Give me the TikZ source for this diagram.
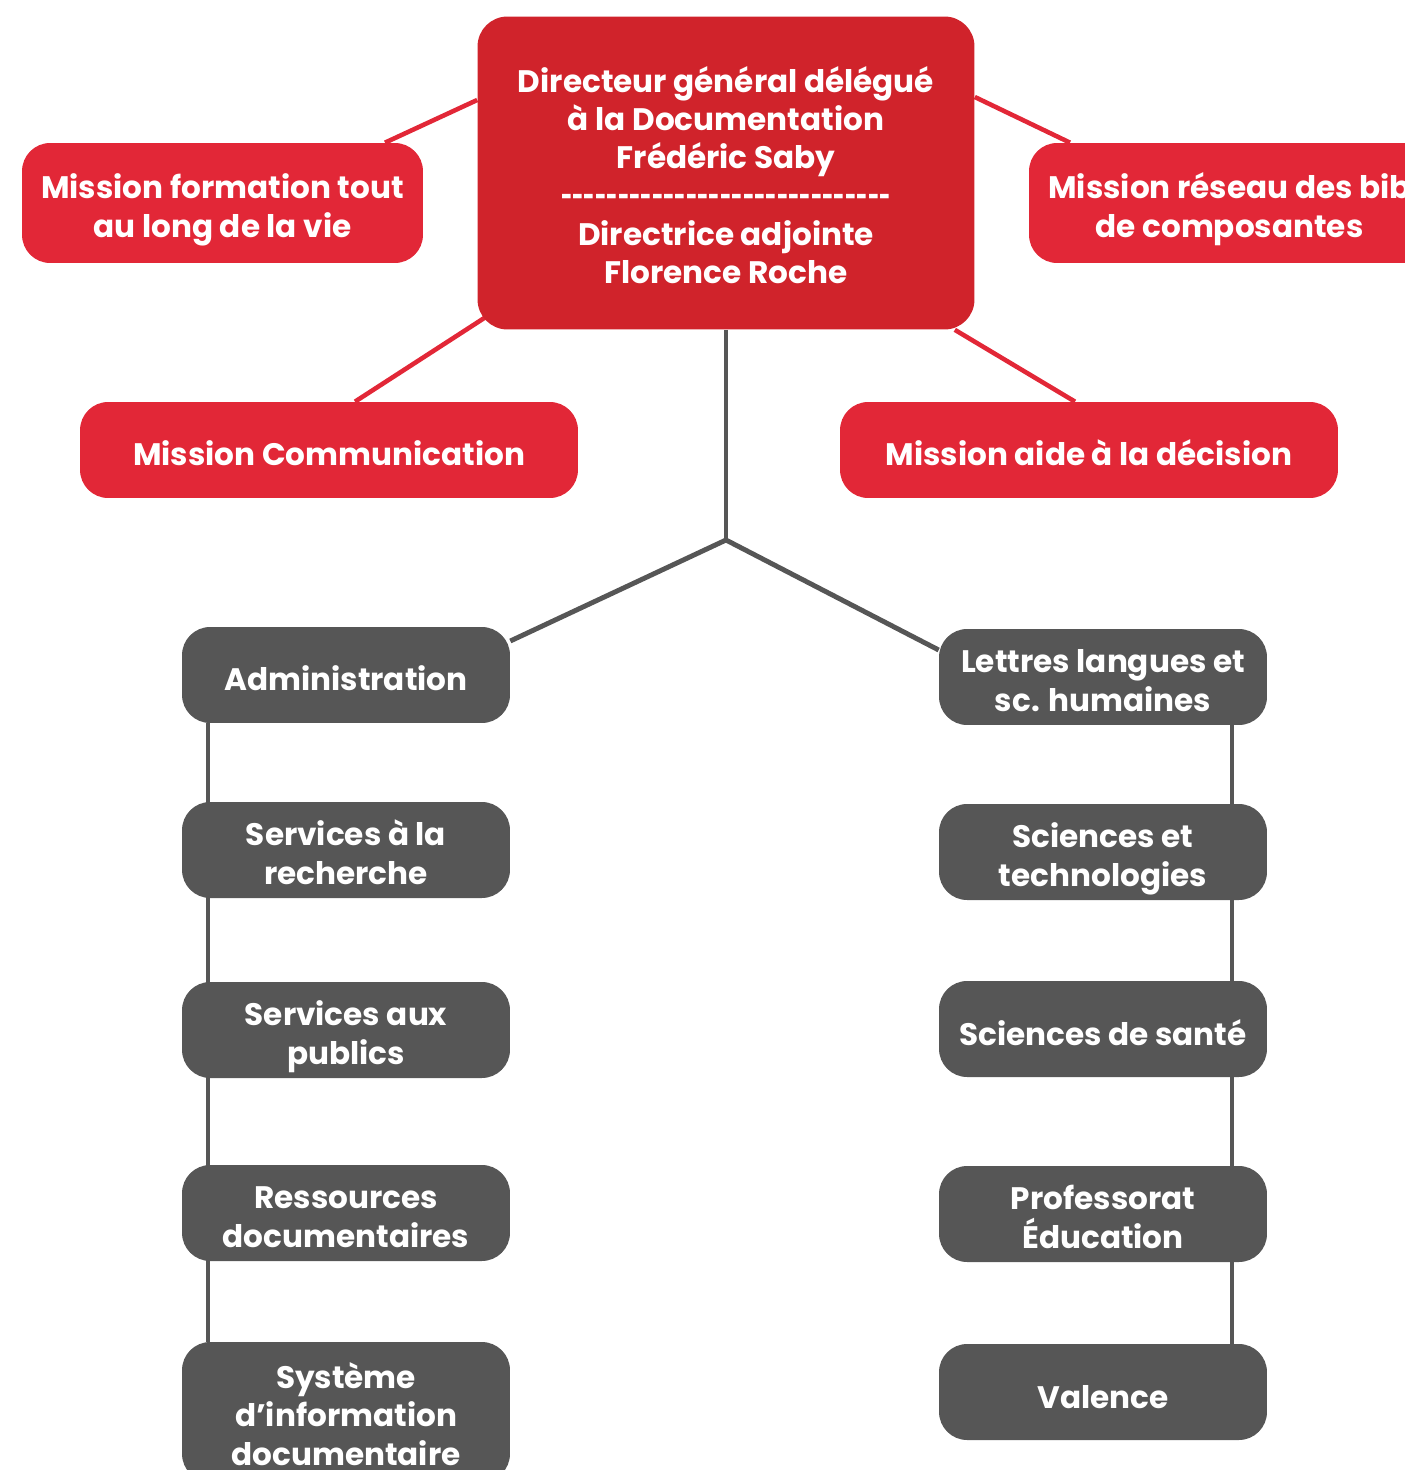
\documentclass[tikz,border=0pt]{standalone}
\usepackage{fontspec}
\setmainfont{Poppins}
\usetikzlibrary{backgrounds}
\definecolor{mainred}{HTML}{D0232B}
\definecolor{misred}{HTML}{E22737}
\definecolor{boxgray}{HTML}{565656}
\newcommand\dashrow{\scalebox{0.63}[1]{-{}-{}-{}-{}-{}-{}-{}-{}-{}-{}-{}-{}-{}-{}-{}-{}-{}-{}-{}-{}-{}-{}-{}-{}-{}-{}-{}-{}-}}
\newcommand\ext[1]{\rule[-5pt]{0pt}{\dimexpr#1+5pt\relax}}
\begin{document}
\begin{tikzpicture}[x=0.02cm,y=-0.02cm,
  every node/.style={font=\fontsize{17.7}{21.8}\selectfont\bfseries, text=white, align=center, inner sep=0pt,
    execute at end node={\ext{23.2pt}}},
  two/.style={execute at end node={\ext{43.8pt}}},
  three/.style={execute at end node={\ext{65.6pt}}},
  six/.style={execute at end node={\ext{131pt}}},
  mainbox/.style={fill=mainred, rounded corners=17pt, minimum width=9.94cm, minimum height=6.26cm, six},
  misbox/.style={fill=misred, rounded corners=16pt, minimum height=2.4cm, minimum width=8.02cm, two},
  misbar/.style={fill=misred, rounded corners=16pt, minimum height=1.92cm, minimum width=9.96cm},
  graybox/.style={fill=boxgray, rounded corners=16pt, minimum height=1.92cm, minimum width=6.56cm},
  redline/.style={draw=misred, line width=2.6pt},
  grayline/.style={draw=boxgray, line width=2.8pt}]
\useasboundingbox (0,0) rectangle (1405,1470);
\clip (0,0) rectangle (1405,1470);
\node[mainbox] (main) at (726,173) {Directeur général délégué\\à la Documentation\\Frédéric Saby\\\dashrow\\Directrice adjointe\\Florence Roche};
\node[misbox] (form) at (222.5,203) {Mission formation tout\\au long de la vie};
\node[misbox] (res) at (1229.5,203) {Mission réseau des bib\\de composantes};
\node[misbar] (comm) at (329,450) {Mission Communication};
\node[misbar] (aide) at (1089,450) {Mission aide à la décision};
\node[graybox] (adm) at (346,675) {Administration};
\node[graybox, two] (rech) at (346,850) {Services à la\\recherche};
\node[graybox, two] (pub) at (346,1030) {Services aux\\publics};
\node[graybox, two] (ress) at (346,1213) {Ressources\\documentaires};
\node[graybox, three, minimum height=2.8cm] (sid) at (346,1412) {Système\\d’information\\documentaire};
\node[graybox, two] (lett) at (1103,677) {Lettres langues et\\sc. humaines};
\node[graybox, two] (sci) at (1103,852) {Sciences et\\technologies};
\node[graybox] (sante) at (1103,1029) {Sciences de santé};
\node[graybox, two] (prof) at (1103,1214) {Professorat\\Éducation};
\node[graybox] (val) at (1103,1392) {Valence};
\coordinate (hub) at (726,540);
\begin{pgfonlayer}{background}
\draw[redline] (main.west |- 0,100) -- (form.north -| 385,0);
\draw[redline] (main.south west) ++(12,-15) -- (comm.north -| 355,0);
\draw[redline] (main.east |- 0,97) -- (res.north -| 1070,0);
\draw[redline] (main.south east) ++(-20,0) -- (aide.north -| 1075,0);
\draw[grayline] (main.south) -- (hub);
\draw[grayline] (hub) -- (adm.east |- 0,641);
\draw[grayline] (hub) -- (lett.west |- 0,650);
\draw[grayline] (adm.south -| 208,0) -- (sid.north -| 208,0);
\draw[grayline] (lett.south -| 1232,0) -- (val.north -| 1232,0);
\end{pgfonlayer}
\end{tikzpicture}
\end{document}
